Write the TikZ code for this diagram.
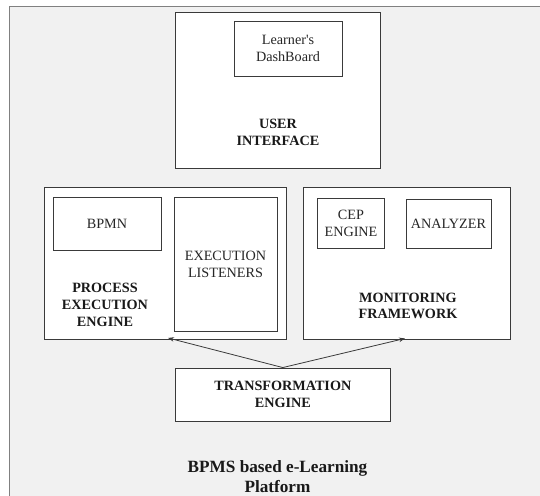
\documentclass[tikz,border=0pt]{standalone}
\usepackage{fontspec}
\setmainfont{Liberation Serif}
\usetikzlibrary{arrows.meta}
\definecolor{bg}{HTML}{F1F1F1}
\definecolor{framegray}{HTML}{808080}
\definecolor{edgegray}{HTML}{3A3A3A}
\begin{document}
\begin{tikzpicture}[x=1pt,y=-1pt,
  box/.style={draw=edgegray, line width=0.9pt, fill=white, rectangle, inner sep=0pt},
  txt/.style={font=\fontsize{14.2}{16.8}\selectfont, align=center, text=black!85, inner sep=0pt},
  btxt/.style={font=\fontsize{14.2}{16.8}\selectfont\bfseries, align=center, text=black!90, inner sep=0pt},
  bigtxt/.style={font=\fontsize{17.2}{19.6}\selectfont\bfseries, align=center, text=black!90, inner sep=0pt},
  link/.style={draw=edgegray, line width=0.8pt, -{Stealth[length=6pt,width=4.5pt]}}]
\clip (0,0) rectangle (540,495);
\fill[white] (0,0) rectangle (540,495);
\draw[framegray, fill=bg, line width=1pt] (9,7) rectangle (570,530);

% user interface
\node[box, minimum width=205pt, minimum height=156pt] (ui) at (277.5,90) {};
\node[box, minimum width=108pt, minimum height=55pt, txt] (dash) at (288,48.5) {Learner\textquotesingle s\\DashBoard};
\node[btxt] (uilabel) at (278,132.5) {USER\\INTERFACE};

% process execution engine
\node[box, minimum width=242pt, minimum height=152pt] (pee) at (165,263) {};
\node[box, minimum width=108pt, minimum height=53pt, txt] (bpmn) at (107,223.5) {BPMN};
\node[box, minimum width=103pt, minimum height=134pt, txt] (listen) at (225.5,264) {EXECUTION\\LISTENERS};
\node[btxt] (peelabel) at (105,305) {PROCESS\\EXECUTION\\ENGINE};

% monitoring framework
\node[box, minimum width=207pt, minimum height=152pt] (mf) at (406.5,263) {};
\node[box, minimum width=66.6pt, minimum height=50pt, txt] (cep) at (351,223.5) {CEP\\ENGINE};
\node[box, minimum width=85pt, minimum height=49pt, txt] (analyzer) at (448.5,223.5) {ANALYZER};
\node[btxt] (mflabel) at (408,306) {MONITORING\\FRAMEWORK};

% transformation engine
\node[box, minimum width=214.4pt, minimum height=53pt, btxt] (te) at (282.8,394.5) {TRANSFORMATION\\ENGINE};

\draw[link] (te.north) -- ([xshift=3pt,yshift=1.5pt]pee.south);
\draw[link] (te.north) -- ([xshift=-1.5pt,yshift=1pt]mf.south);

% platform
\node[bigtxt] (platform) at (277.5,476.7) {BPMS based e-Learning\\Platform};
\end{tikzpicture}
\end{document}
